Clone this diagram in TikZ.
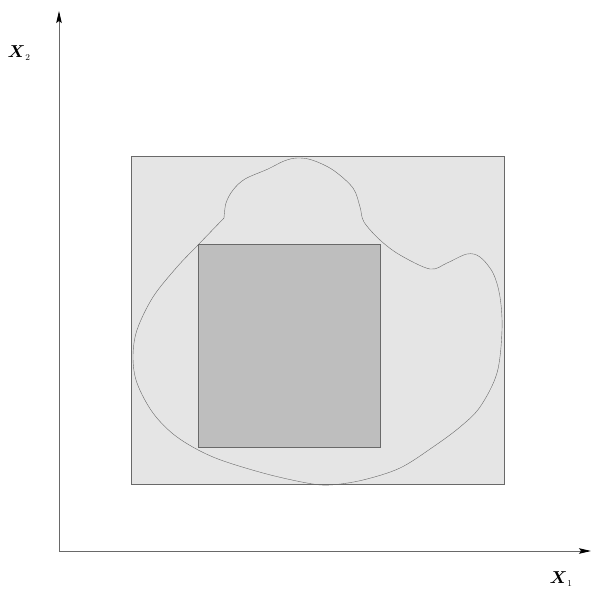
\documentclass[tikz,border=0pt]{standalone}
\usepackage{fontspec}
\setmainfont{Liberation Serif}
\usetikzlibrary{arrows.meta}
\definecolor{cline}{RGB}{105, 105, 105}
\definecolor{cregion}{RGB}{229, 229, 229}
\definecolor{cbox}{RGB}{190, 190, 190}
\tikzset{
	>={Stealth[length=12pt, width=5.5pt, inset=2pt, black]},%
	axis/.style={%
			draw=cline,%
			thick,%
			->},%
	outerbox/.style={%
			draw=cline,%
			fill=cregion},%
	innerbox/.style={%
			draw=cline,%
			fill=cbox},%
	blob/.style={%
			draw=cline,%
			thin},%
	axislabel/.style={%
			font={\fontsize{19}{19}\selectfont},%
			inner sep=0pt},%
}
\usepackage{amsmath}
\usepackage{amssymb}
\begin{document}
\begin{tikzpicture}[x=1pt, y=-1pt]%
	\useasboundingbox (0,0) rectangle (591,589);

	% bounding region and inner box
	\draw[outerbox] (131,156) rectangle (504,484);
	\draw[innerbox] (198,244) rectangle (380,447);

	% the irregular set
	\draw[blob] plot[smooth, tension=0.55] coordinates {
			(224,218) (226,203) (233,190) (245,179) (268,169) (284,161)
			(297,158) (312,160) (333,170) (353,188) (360,207) (364,222)
			(380,240) (400,255) (430,269) (447,263) (467,254) (480,257)
			(493,273) (500,297) (502,330) (497,373) (480,407) (460,427)
			(433,447) (400,468) (363,480) (330,485) (307,483) (263,473)
			(213,457) (177,437) (153,413) (137,383) (133,357) (137,330)
			(153,297) (177,267) (198,245) (224,218)};

	% axes
	\coordinate (origin) at (59,551);
	\coordinate (xend) at (591,551);
	\coordinate (yend) at (59,11);
	\draw[axis] (origin) -- (xend);
	\draw[axis] (origin) -- (yend);

	\node[axislabel] (xlabel) at (561,579) {$\boldsymbol{X}_{\scriptscriptstyle 1}$};
	\node[axislabel] (ylabel) at (19,53) {$\boldsymbol{X}_{\scriptscriptstyle 2}$};
\end{tikzpicture}
\end{document}
